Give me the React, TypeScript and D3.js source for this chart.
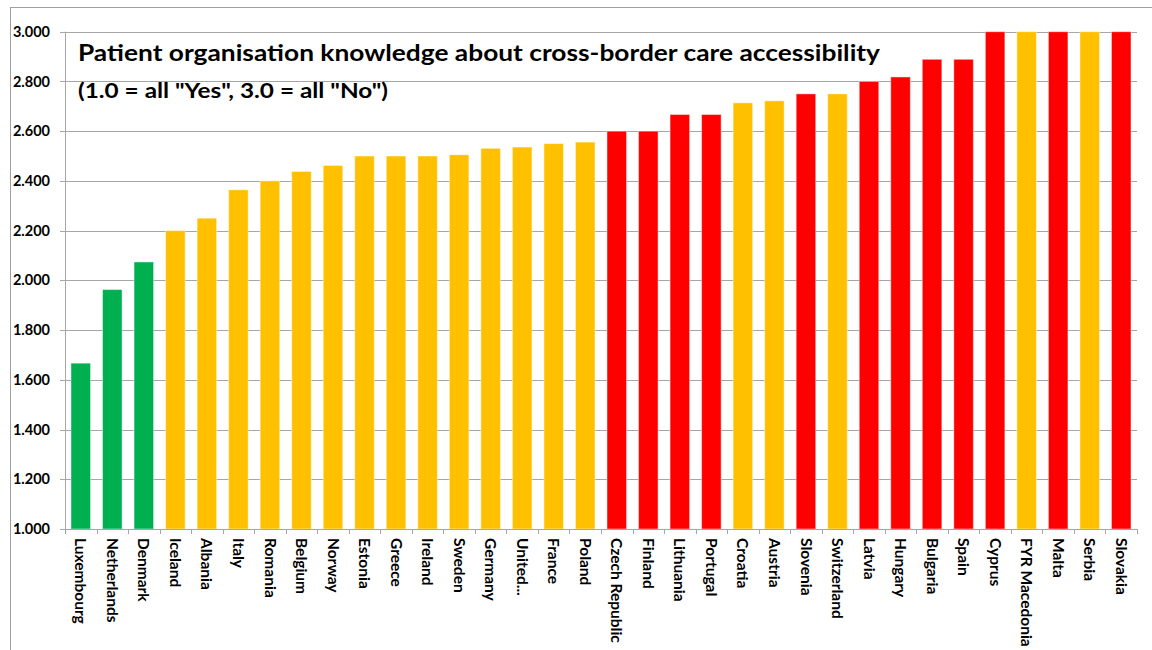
import React, { useEffect, useRef } from "react";
import * as d3 from "d3";

const countries = [
  "Luxembourg", "Netherlands", "Denmark", "Iceland", "Albania", "Italy", "Romania", "Belgium",
  "Norway", "Estonia", "Greece", "Ireland", "Sweden", "Germany", "United...", "France", "Poland",
  "Czech Republic", "Finland", "Lithuania", "Portugal", "Croatia", "Austria", "Slovenia",
  "Switzerland", "Latvia", "Hungary", "Bulgaria", "Spain", "Cyprus", "FYR Macedonia", "Malta",
  "Serbia", "Slovakia",
];

const scores = [
  1.667, 1.963, 2.074, 2.2, 2.25, 2.364, 2.4, 2.438,
  2.462, 2.5, 2.5, 2.5, 2.505, 2.531, 2.536, 2.55, 2.556,
  2.6, 2.6, 2.667, 2.667, 2.714, 2.722, 2.75,
  2.75, 2.8, 2.818, 2.889, 2.889, 3.0, 3.0, 3.0,
  3.0, 3.0,
];

const groups = [
  "g", "g", "g", "a", "a", "a", "a", "a",
  "a", "a", "a", "a", "a", "a", "a", "a", "a",
  "r", "r", "r", "r", "a", "a", "r",
  "a", "r", "r", "r", "r", "r", "a", "r",
  "a", "r",
];

const yTicks = [1.0, 1.2, 1.4, 1.6, 1.8, 2.0, 2.2, 2.4, 2.6, 2.8, 3.0];

const titleLines = [
  "Patient organisation knowledge about cross-border care accessibility",
  "(1.0 = all \"Yes\", 3.0 = all \"No\")",
];

const groupColor: Record<string, string> = { g: "#00B050", a: "#FFC000", r: "#FF0000" };

export default function App() {
  const ref = useRef<SVGSVGElement>(null);

  useEffect(() => {
    const svg = d3.select(ref.current);
    svg.selectAll("*").remove();

    const W = 1152, H = 650;
    const left = 65, right = 1137, top = 31.7, bottom = 529;
    const font = "Lato, 'Open Sans', sans-serif";

    svg.append("rect").attr("width", W).attr("height", H).attr("fill", "#fff");

    // outer border
    svg.append("rect")
      .attr("x", 10.5).attr("y", 7.5)
      .attr("width", W + 20).attr("height", H + 20)
      .attr("fill", "none").attr("stroke", "#a0a0a0").attr("stroke-width", 1);

    const x = d3.scaleBand<string>().domain(countries).range([left, right])
      .paddingInner(0.38).paddingOuter(0.19);
    const y = d3.scaleLinear().domain([1, 3]).range([bottom, top]);

    // gridlines
    svg.append("g").selectAll("line").data(yTicks).join("line")
      .attr("x1", left - 5).attr("x2", right)
      .attr("y1", (d) => Math.round(y(d)) + 0.5).attr("y2", (d) => Math.round(y(d)) + 0.5)
      .attr("stroke", "#a6a6a6").attr("stroke-width", 1);

    // y labels
    svg.append("g").selectAll("text").data(yTicks).join("text")
      .attr("x", 50).attr("y", (d) => y(d))
      .attr("dy", "0.35em")
      .attr("text-anchor", "end")
      .attr("font-family", font).attr("font-weight", "bold").attr("font-size", 14.5)
      .attr("fill", "#000")
      .text((d) => d3.format(".3f")(d));

    // bars
    svg.append("g").selectAll("rect").data(countries).join("rect")
      .attr("x", (d) => x(d)!)
      .attr("width", x.bandwidth())
      .attr("y", (d, i) => y(scores[i]))
      .attr("height", (d, i) => bottom - y(scores[i]))
      .attr("fill", (d, i) => groupColor[groups[i]])
      .attr("stroke", "#ffffff").attr("stroke-opacity", 0.45).attr("stroke-width", 1);

    // y axis line
    svg.append("line")
      .attr("x1", left + 0.5).attr("x2", left + 0.5)
      .attr("y1", top).attr("y2", bottom)
      .attr("stroke", "#a6a6a6");

    // x axis line
    svg.append("line")
      .attr("x1", left).attr("x2", right)
      .attr("y1", Math.round(bottom) + 0.5).attr("y2", Math.round(bottom) + 0.5)
      .attr("stroke", "#a6a6a6");

    // x tick marks at category boundaries
    const step = x.step();
    const boundaries = d3.range(countries.length + 1).map((i) => left + i * step);
    svg.append("g").selectAll("line").data(boundaries).join("line")
      .attr("x1", (d) => Math.round(d) + 0.5).attr("x2", (d) => Math.round(d) + 0.5)
      .attr("y1", bottom).attr("y2", bottom + 5)
      .attr("stroke", "#a6a6a6");

    // x labels
    svg.append("g").selectAll("text").data(countries).join("text")
      .attr("transform", (d) => `translate(${x(d)! + x.bandwidth() / 2},538) rotate(90)`)
      .attr("dy", "0.35em")
      .attr("text-anchor", "start")
      .attr("font-family", font).attr("font-weight", "bold").attr("font-size", 15.5)
      .attr("fill", "#000")
      .text((d) => d);

    // title
    const t1 = svg.append("text")
      .attr("x", 78).attr("y", 61)
      .attr("font-family", font).attr("font-weight", "bold").attr("font-size", 23)
      .attr("fill", "#000")
      .text(titleLines[0]);
    t1.attr("textLength", 802).attr("lengthAdjust", "spacingAndGlyphs");
    const t2 = svg.append("text")
      .attr("x", 78).attr("y", 98)
      .attr("font-family", font).attr("font-weight", "bold").attr("font-size", 21)
      .attr("fill", "#000")
      .text(titleLines[1]);
    t2.attr("textLength", 310).attr("lengthAdjust", "spacingAndGlyphs");
  }, []);

  return (
    <svg
      ref={ref}
      width={1152}
      height={650}
      style={{ position: "absolute", left: 0, top: 0, display: "block" }}
    />
  );
}
